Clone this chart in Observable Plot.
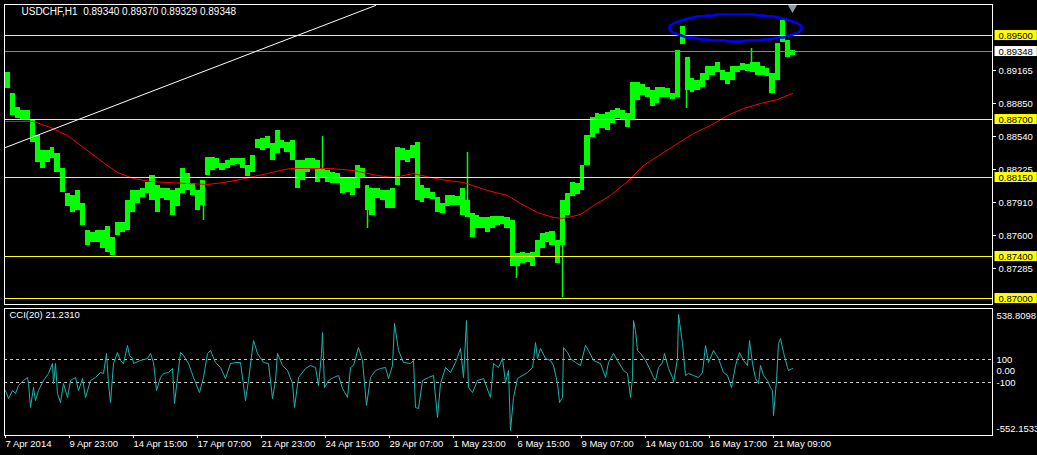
<!DOCTYPE html>
<html><head><meta charset="utf-8">
<script src="https://cdn.jsdelivr.net/npm/d3@7"></script>
<script src="https://cdn.jsdelivr.net/npm/@observablehq/plot@0.6"></script>
<style>
html,body{margin:0;padding:0;background:#000;}
#chart{width:1037px;height:455px;background:#000;overflow:hidden;}
#chart svg{display:block;}
</style></head>
<body><div id="chart"></div>
<script>
// ---------- data ----------
const titleText = "USDCHF,H1\u00a0\u00a00.89340 0.89370 0.89329 0.89348";
const cciTitle = "CCI(20) 21.2310";
const priceLevels = [0.895, 0.887, 0.8815, 0.874, 0.870];
const bidPrice = 0.89348;
const priceTicks = [0.89165, 0.88850, 0.88540, 0.88225, 0.87910, 0.87600, 0.87285];
const barsPerSample = 5;
const priceHigh = [
0.8915,0.8895,0.8882,0.8879,0.8879,0.8869,0.8855,0.8841,0.8841,0.8844,
0.8838,0.8824,0.8800,0.8798,0.8803,0.8790,0.8765,0.8763,0.8765,0.8765,
0.8768,0.8758,0.8772,0.8772,0.8793,0.8803,0.8803,0.8805,0.8810,0.8817,
0.8807,0.8805,0.8805,0.8803,0.8805,0.8824,0.8819,0.8809,0.8803,0.8812,
0.8834,0.8834,0.8833,0.8828,0.8831,0.8833,0.8833,0.8833,0.8826,0.8836,
0.8851,0.8852,0.8854,0.8847,0.8860,0.8850,0.8848,0.8850,0.8831,0.8831,
0.8833,0.8833,0.8831,0.8824,0.8822,0.8820,0.8819,0.8815,0.8814,0.8814,
0.8826,0.8824,0.8807,0.8805,0.8805,0.8803,0.8803,0.8805,0.8844,0.8843,
0.8841,0.8845,0.8848,0.8807,0.8805,0.8801,0.8796,0.8790,0.8798,0.8798,
0.8797,0.8805,0.8793,0.8781,0.8779,0.8777,0.8777,0.8778,0.8778,0.8778,
0.8777,0.8774,0.8743,0.8744,0.8743,0.8744,0.8755,0.8762,0.8763,0.8764,
0.8755,0.8793,0.8800,0.8810,0.8809,0.8826,0.8855,0.8872,0.8876,0.8875,
0.8877,0.8879,0.8881,0.8879,0.8876,0.8905,0.8905,0.8903,0.8901,0.8898,
0.8901,0.8901,0.8900,0.8895,0.8936,0.8959,0.8929,0.8909,0.8907,0.8914,
0.8921,0.8921,0.8924,0.8917,0.8915,0.8921,0.8921,0.8923,0.8922,0.8924,
0.8924,0.8921,0.8919,0.8914,0.8942,0.8964,0.8945,0.8936];
const priceLow = [
0.8900,0.8874,0.8871,0.8870,0.8869,0.8848,0.8829,0.8824,0.8829,0.8833,
0.8820,0.8801,0.8787,0.8782,0.8784,0.8769,0.8750,0.8753,0.8753,0.8748,
0.8744,0.8741,0.8760,0.8763,0.8765,0.8782,0.8790,0.8796,0.8800,0.8793,
0.8782,0.8795,0.8793,0.8779,0.8787,0.8800,0.8803,0.8798,0.8784,0.8788,
0.8817,0.8822,0.8824,0.8822,0.8824,0.8826,0.8827,0.8824,0.8816,0.8820,
0.8843,0.8841,0.8843,0.8831,0.8838,0.8843,0.8839,0.8831,0.8805,0.8812,
0.8820,0.8824,0.8810,0.8815,0.8810,0.8809,0.8809,0.8800,0.8801,0.8798,
0.8805,0.8814,0.8784,0.8779,0.8795,0.8793,0.8786,0.8786,0.8807,0.8831,
0.8829,0.8833,0.8793,0.8791,0.8795,0.8794,0.8782,0.8781,0.8787,0.8788,
0.8788,0.8779,0.8777,0.8758,0.8767,0.8767,0.8763,0.8767,0.8769,0.8770,
0.8767,0.8730,0.8730,0.8733,0.8734,0.8730,0.8739,0.8748,0.8753,0.8750,
0.8733,0.8750,0.8779,0.8797,0.8799,0.8803,0.8826,0.8853,0.8857,0.8862,
0.8860,0.8866,0.8871,0.8870,0.8863,0.8869,0.8888,0.8893,0.8891,0.8883,
0.8885,0.8891,0.8891,0.8889,0.8891,0.8941,0.8898,0.8896,0.8898,0.8901,
0.8907,0.8912,0.8915,0.8907,0.8903,0.8907,0.8915,0.8917,0.8916,0.8915,
0.8912,0.8912,0.8911,0.8895,0.8907,0.8943,0.8929,0.8931];
// single-bar wicks (bar index, from, to)
const spikeBars = [199, 318, 363, 463, 512, 558, 682, 747];
const spikeFrom = [0.8788, 0.8824, 0.8784, 0.8793, 0.8730, 0.8755, 0.8898, 0.8924];
const spikeTo = [0.8774, 0.8854, 0.8767, 0.8839, 0.8719, 0.8701, 0.8881, 0.8938];
const maBars = [1,29,46,63,79,96,113,129,146,163,183,203,219,236,249,263,276,286,326,349,373,389,409,426,443,459,483,503,516,533,549,559,576,589,606,623,639,656,673,689,706,723,739,756,773,788];
const maValues = [0.8868,0.8868,0.8863,0.8855,0.8844,0.8831,0.8820,0.8814,0.8811,0.8810,0.8809,0.8808,0.8810,0.8813,0.8816,0.8819,0.8822,0.8824,0.8824,0.8822,0.8817,0.8815,0.8819,0.8815,0.8812,0.8810,0.8803,0.8798,0.8790,0.8782,0.8777,0.8776,0.8780,0.8788,0.8798,0.8811,0.8826,0.8837,0.8847,0.8857,0.8864,0.8874,0.8881,0.8885,0.8889,0.8895];
const trendBars = [1, 371];
const trendValues = [0.8844, 0.89785];
const ellipseCenterBar = 731, ellipseCenterPrice = 0.89574, ellipseRadiusBars = 66, ellipseRadiusPrice = 0.00127;
const cciBars = [1,4,8,11,14,19,23,24,26,29,31,34,39,44,48,49,51,53,56,59,63,66,71,74,78,81,86,91,96,99,102,104,106,109,113,116,119,123,125,128,129,136,143,146,149,152,156,159,164,168,170,173,176,179,184,189,195,199,203,206,211,216,221,226,231,236,241,244,249,253,259,264,268,271,273,278,283,288,290,294,301,306,311,314,317,318,320,324,329,334,338,343,346,349,354,358,362,366,371,376,381,384,388,390,394,399,406,409,411,414,418,424,429,433,436,441,446,451,456,459,462,464,468,473,479,486,489,494,498,501,504,506,509,513,523,528,529,531,533,536,541,546,549,553,555,558,559,563,566,571,576,581,584,589,596,601,604,609,613,619,623,626,628,629,631,633,636,641,646,649,651,654,658,660,664,668,669,673,674,678,681,684,689,694,698,701,704,709,714,719,723,727,731,735,739,743,745,748,751,754,756,759,763,766,768,769,772,774,776,779,783,784,788];
const cciValues = [-174,-244,-174,-200,-130,-85,-59,-112,-323,-147,-262,-174,-85,-24,64,-112,64,-200,-279,-112,-235,-85,-59,-174,-68,-235,-85,-59,-15,-24,152,-112,-279,64,161,91,64,223,135,108,64,91,108,152,73,-174,-59,-24,-15,20,-288,-59,161,135,64,-59,-191,-59,152,179,73,29,-68,64,73,73,-262,-85,267,152,73,64,-244,-85,152,47,3,-112,-323,-59,20,47,29,-130,152,337,-147,-85,-59,-41,-156,-235,29,47,205,91,-306,-59,3,20,29,-68,47,417,179,73,64,91,-323,-332,-85,-59,-41,-411,-112,29,-15,73,196,-59,443,-147,-191,-85,-68,-235,64,29,108,-103,3,-526,-235,-68,-15,29,91,249,108,196,108,91,47,-112,-279,-235,205,161,108,73,47,223,179,91,64,-59,73,152,91,3,-24,-235,-59,443,355,179,152,91,3,-59,-85,29,73,152,20,-59,-103,108,496,241,-41,-24,-41,-59,-15,223,73,179,108,-15,-41,-147,47,161,91,47,267,64,-68,-112,47,-41,-85,-147,-174,-394,-85,241,285,161,29,3,21];
const cciLevels = [100, -100];
const cciLabelValues = [100, 0, -100];
const cciLabelTexts = ["100", "0.00", "-100"];
const cciMax = 538.8098, cciMin = -552.1533;
const timeTickBars = [1,65,129,193,257,321,385,449,513,577,641,705,769];
const timeTickLabels = ["7 Apr 2014","9 Apr 23:00","14 Apr 15:00","17 Apr 07:00","21 Apr 23:00","24 Apr 15:00","29 Apr 07:00","1 May 23:00","6 May 15:00","9 May 07:00","14 May 01:00","16 May 17:00","21 May 09:00"];

// ---------- tables ----------
const bars = priceHigh.map((h, i) => ({x1: i * barsPerSample + 0.5, x2: (i + 1) * barsPerSample + 0.5, hi: h, lo: priceLow[i]}));
const spikes = spikeBars.map((b, i) => ({b, y1: spikeFrom[i], y2: spikeTo[i]}));
const lastBar = (priceHigh.length - 1) * barsPerSample + 3;
const ma = maBars.map((b, i) => ({b, v: maValues[i]}));
const trend = trendBars.map((b, i) => ({b, v: trendValues[i]}));
const ellipse = d3.range(0, 73).map(k => {
  const a = k / 72 * 2 * Math.PI;
  return {b: ellipseCenterBar + ellipseRadiusBars * Math.cos(a), v: ellipseCenterPrice + ellipseRadiusPrice * Math.sin(a)};
});
const cci = cciBars.map((b, i) => ({b, v: cciValues[i]}));
const cciLabels = cciLabelValues.map((v, i) => ({v, t: cciLabelTexts[i]}));

const font = {background: "#000", color: "#fff", fontFamily: "'Liberation Sans', Arial, sans-serif", fontSize: "9.5px", overflow: "visible"};
const xDomain = [0, 988];

const main = Plot.plot({
  width: 1037, height: 306,
  marginLeft: 4, marginRight: 45, marginTop: 4, marginBottom: 2,
  x: {domain: xDomain, axis: null, round: true},
  y: {domain: [0.86943, 0.89795], round: true},
  style: font,
  marks: [
    Plot.rect(bars, {x1: "x1", x2: "x2", y1: "lo", y2: "hi", fill: "#00ff00", inset: 0}),
    Plot.ruleX(spikes, {x: "b", y1: "y1", y2: "y2", stroke: "#00ff00", strokeWidth: 1.5}),
    Plot.line(ma, {x: "b", y: "v", stroke: "#ff0000", strokeWidth: 1}),
    Plot.ruleY(priceLevels, {stroke: "#ffff00", strokeWidth: 1, shapeRendering: "crispEdges"}),
    Plot.ruleY([bidPrice], {stroke: "#778899", strokeWidth: 1, shapeRendering: "crispEdges"}),
    Plot.line(trend, {x: "b", y: "v", stroke: "#ffffff", strokeWidth: 1, clip: true}),
    Plot.line(ellipse, {x: "b", y: "v", stroke: "#0000ff", strokeWidth: 2.5}),
    Plot.dot([lastBar], {x: d => d, frameAnchor: "top", dy: 3, symbol: "triangle", rotate: 180, r: 3.5, fill: "#8e9aa6", stroke: "none"}),
    Plot.frame({stroke: "#ffffff"}),
    Plot.axisY({anchor: "right", ticks: priceTicks, tickFormat: d => d.toFixed(5), tickSize: 3, tickPadding: 3, label: null}),
    Plot.text(priceLevels, {y: d => d, text: d => d.toFixed(5), frameAnchor: "right", dx: 6, textAnchor: "start", fill: "#000", ariaDescription: "hl-yellow"}),
    Plot.text([bidPrice], {y: d => d, text: d => d.toFixed(5), frameAnchor: "right", dx: 6, textAnchor: "start", fill: "#000", ariaDescription: "hl-white"}),
    Plot.text([titleText], {frameAnchor: "top-left", dx: 17, dy: 3, fill: "#fff", lineAnchor: "top", fontSize: 10})
  ]
});

const sub = Plot.plot({
  width: 1037, height: 149,
  marginLeft: 4, marginRight: 45, marginTop: 2, marginBottom: 20,
  x: {domain: xDomain, round: true},
  y: {domain: [-570, 547.6], axis: null, round: true},
  style: font,
  marks: [
    Plot.ruleY(cciLevels, {stroke: "#c8c8c8", strokeDasharray: "3,3"}),
    Plot.line(cci, {x: "b", y: "v", stroke: "#20b2aa", strokeWidth: 1}),
    Plot.frame({stroke: "#ffffff"}),
    Plot.text(cciLabels, {y: "v", text: "t", frameAnchor: "right", dx: 4, textAnchor: "start", fill: "#fff"}),
    Plot.text([cciMax], {y: d => d, text: d => d.toFixed(4), frameAnchor: "right", dx: 4, dy: 6, textAnchor: "start", fill: "#fff"}),
    Plot.text([cciMin], {y: d => d, text: d => d.toFixed(4), frameAnchor: "right", dx: 4, dy: -5, textAnchor: "start", fill: "#fff"}),
    Plot.text([cciTitle], {frameAnchor: "top-left", dx: 5, dy: 3, fill: "#fff", lineAnchor: "top"}),
    Plot.axisX({anchor: "bottom", ticks: timeTickBars, tickFormat: d => timeTickLabels[timeTickBars.indexOf(d)], tickSize: 3, tickPadding: 2, textAnchor: "start", label: null})
  ]
});

const root = document.getElementById("chart");
root.appendChild(main);
root.appendChild(sub);

function boxLabels(svg, label, fill) {
  d3.select(svg).selectAll(`g[aria-description="${label}"] text`).each(function() {
    const b = this.getBBox();
    const r = document.createElementNS("http://www.w3.org/2000/svg", "rect");
    r.setAttribute("x", b.x - 4);
    r.setAttribute("y", b.y + 0.5);
    r.setAttribute("width", b.width + 8);
    r.setAttribute("height", b.height - 1);
    r.setAttribute("fill", fill);
    const t = this.getAttribute("transform");
    if (t) r.setAttribute("transform", t);
    this.parentNode.insertBefore(r, this);
  });
}
boxLabels(main, "hl-yellow", "#ffff00");
boxLabels(main, "hl-white", "#ffffff");
</script>
</body></html>
